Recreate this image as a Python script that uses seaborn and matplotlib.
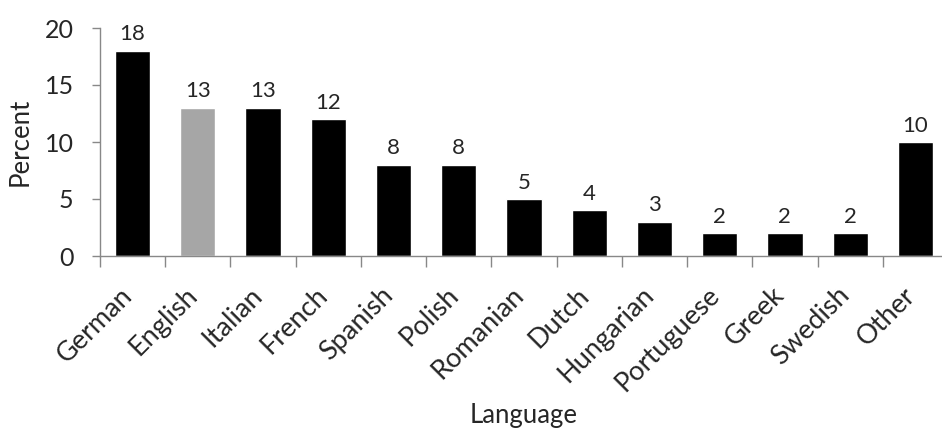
import matplotlib
matplotlib.use("Agg")
import matplotlib.pyplot as plt
import matplotlib.transforms as mtransforms
import seaborn as sns
import pandas as pd

languages = ["German", "English", "Italian", "French", "Spanish", "Polish", "Romanian",
             "Dutch", "Hungarian", "Portuguese", "Greek", "Swedish", "Other"]
percent = [18, 13, 13, 12, 8, 8, 5, 4, 3, 2, 2, 2, 10]
highlight = "English"

sns.set_style("white")
plt.rcParams['font.family'] = ['Lato', 'DejaVu Sans']

df = pd.DataFrame({"Language": languages, "Percent": percent})
palette = {l: ("#a6a6a6" if l == highlight else "#000000") for l in languages}

fig = plt.figure(figsize=(9.42, 4.28), dpi=100)
ax = fig.add_axes([100/942, 172/428, 848/942, 228/428])
sns.barplot(data=df, x="Language", y="Percent", hue="Language", palette=palette,
            width=0.54, legend=False, ax=ax, saturation=1)
ax.set_xlim(-0.5, len(languages) - 0.5)
ax.set_ylim(0, 20)
ax.set_yticks([0, 5, 10, 15, 20])
ax.tick_params(axis='y', labelsize=18, length=6, width=1, color="#888888", direction='out', left=True, pad=13)
ax.set_xticks(range(len(languages)))
ax.set_xticklabels(languages, rotation=45, ha='right', va='top', rotation_mode='anchor', fontsize=19.5)
ax.tick_params(axis='x', length=0, pad=19)
offset = mtransforms.ScaledTranslation(-13/100, 0, fig.dpi_scale_trans)
for lab in ax.get_xticklabels():
    lab.set_transform(lab.get_transform() + offset)
ax.set_xticks([i + 0.5 for i in range(-1, len(languages))], minor=True)
ax.tick_params(axis='x', which='minor', length=8, width=1, color="#888888", direction='out', bottom=True)
for s in ["top", "right"]:
    ax.spines[s].set_visible(False)
for s in ["left", "bottom"]:
    ax.spines[s].set_color("#888888")
    ax.spines[s].set_linewidth(1)
for i, v in enumerate(percent):
    ax.annotate(str(v), (i, v), xytext=(0, 7.5), textcoords='offset points', ha='center', va='baseline', fontsize=16)
ax.set_ylabel("Percent", fontsize=18.5)
ax.yaxis.set_label_coords(-0.08, 0.5)
ax.set_xlabel("Language", fontsize=18.5)
ax.xaxis.set_label_coords(0.5, -0.645)
fig.savefig("out.png", dpi=100)
